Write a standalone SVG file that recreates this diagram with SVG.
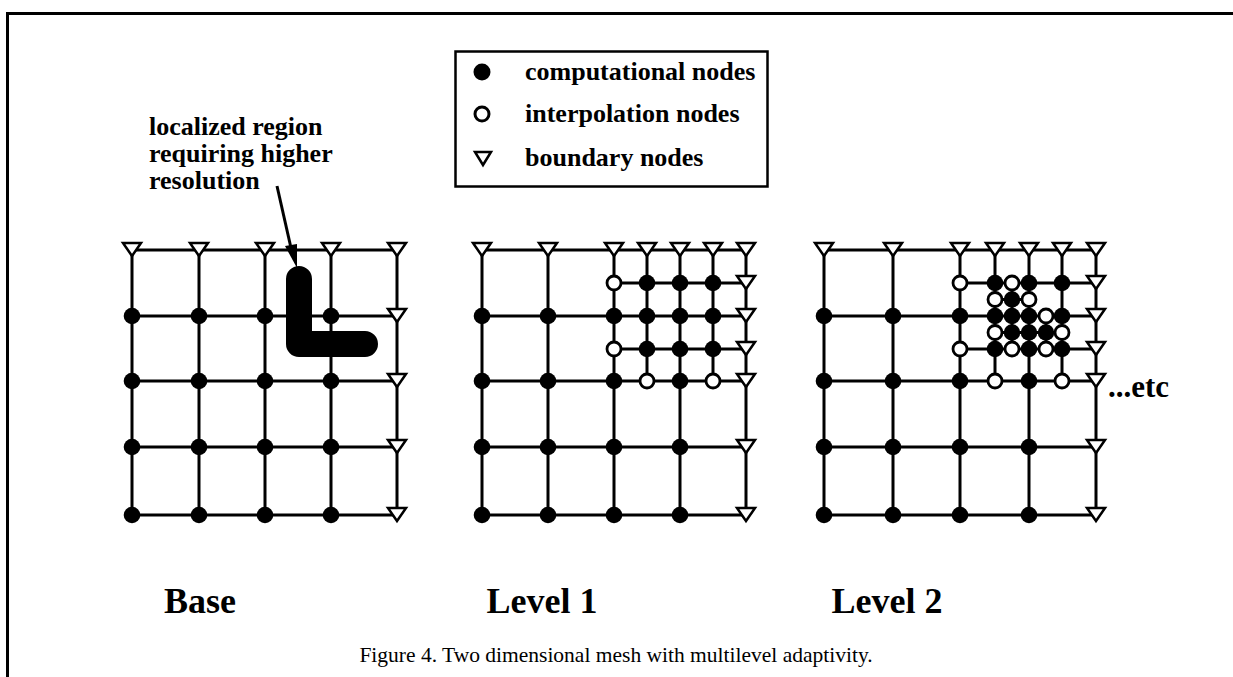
<svg xmlns="http://www.w3.org/2000/svg" xmlns:xlink="http://www.w3.org/1999/xlink" width="1233" height="677" viewBox="0 0 1233 677">
<style>
.ln{stroke:#000;stroke-width:3;fill:none}
.bt{font-family:"Liberation Serif","Times New Roman",serif;font-weight:bold;fill:#000}
.cap{font-family:"Liberation Serif","Times New Roman",serif;fill:#000}
</style>
<defs>
<circle id="F" r="8.3" fill="#000"/>
<circle id="H" r="7" fill="#fff" stroke="#000" stroke-width="2.8"/>
<polygon id="T" points="-9,-7 9,-7 0,6" fill="#fff" stroke="#000" stroke-width="2.5" stroke-linejoin="miter"/>
</defs>
<rect width="1233" height="677" fill="#fff"/>
<path class="ln" d="M7.5,677 V13.5 H1233"/>

<g id="legend">
<rect x="455.5" y="51.5" width="312" height="135" fill="none" stroke="#000" stroke-width="2.5"/>
<circle cx="482" cy="72" r="8.5" fill="#000"/>
<circle cx="482" cy="114" r="7" fill="#fff" stroke="#000" stroke-width="3"/>
<polygon points="475,152 491,152 483,165" fill="#fff" stroke="#000" stroke-width="2.5"/>
<text class="bt" x="525" y="80" font-size="26">computational nodes</text>
<text class="bt" x="525" y="122" font-size="26">interpolation nodes</text>
<text class="bt" x="525" y="166" font-size="26">boundary nodes</text>
</g>

<g id="annotation">
<text class="bt" font-size="26" x="149"><tspan x="149" y="135">localized region</tspan><tspan x="149" y="162">requiring higher</tspan><tspan x="149" y="189">resolution</tspan></text>
</g>

<g id="connectors">
<line x1="277" y1="186" x2="291" y2="248" stroke="#000" stroke-width="3"/>
<polygon points="285,246 297,244 297,268" fill="#000"/>
</g>

<g id="base">
<path class="ln" d="M132,250V515M199,250V515M265,250V515M331,250V515M397,250V515M132,250H397M132,316H397M132,381H397M132,447H397M132,515H397"/>
<path d="M299,279 V344 H365" fill="none" stroke="#000" stroke-width="26" stroke-linecap="round" stroke-linejoin="round"/>
<g id="base-nodes">
<use href="#T" x="132" y="250"/><use href="#T" x="199" y="250"/><use href="#T" x="265" y="250"/><use href="#T" x="331" y="250"/><use href="#T" x="397" y="250"/>
<use href="#T" x="397" y="316"/><use href="#T" x="397" y="381"/><use href="#T" x="397" y="447"/><use href="#T" x="397" y="515"/>
<use href="#F" x="132" y="316"/><use href="#F" x="199" y="316"/><use href="#F" x="265" y="316"/><use href="#F" x="331" y="316"/>
<use href="#F" x="132" y="381"/><use href="#F" x="199" y="381"/><use href="#F" x="265" y="381"/><use href="#F" x="331" y="381"/>
<use href="#F" x="132" y="447"/><use href="#F" x="199" y="447"/><use href="#F" x="265" y="447"/><use href="#F" x="331" y="447"/>
<use href="#F" x="132" y="515"/><use href="#F" x="199" y="515"/><use href="#F" x="265" y="515"/><use href="#F" x="331" y="515"/>
</g>
</g>

<g id="level1">
<path class="ln" d="M482,250V515M548,250V515M614,250V515M680,250V515M746,250V515M482,250H746M482,316H746M482,381H746M482,447H746M482,515H746M647,250V381M713,250V381M614,283H746M614,349H746"/>
<g id="level1-nodes">
<use href="#T" x="482" y="250"/><use href="#T" x="548" y="250"/><use href="#T" x="614" y="250"/><use href="#T" x="647" y="250"/><use href="#T" x="680" y="250"/><use href="#T" x="713" y="250"/><use href="#T" x="746" y="250"/>
<use href="#T" x="746" y="283"/><use href="#T" x="746" y="316"/><use href="#T" x="746" y="349"/><use href="#T" x="746" y="381"/><use href="#T" x="746" y="447"/><use href="#T" x="746" y="515"/>
<use href="#H" x="614" y="283"/><use href="#F" x="647" y="283"/><use href="#F" x="680" y="283"/><use href="#F" x="713" y="283"/>
<use href="#F" x="482" y="316"/><use href="#F" x="548" y="316"/><use href="#F" x="614" y="316"/><use href="#F" x="647" y="316"/><use href="#F" x="680" y="316"/><use href="#F" x="713" y="316"/>
<use href="#H" x="614" y="349"/><use href="#F" x="647" y="349"/><use href="#F" x="680" y="349"/><use href="#F" x="713" y="349"/>
<use href="#F" x="482" y="381"/><use href="#F" x="548" y="381"/><use href="#F" x="614" y="381"/><use href="#H" x="647" y="381"/><use href="#F" x="680" y="381"/><use href="#H" x="713" y="381"/>
<use href="#F" x="482" y="447"/><use href="#F" x="548" y="447"/><use href="#F" x="614" y="447"/><use href="#F" x="680" y="447"/>
<use href="#F" x="482" y="515"/><use href="#F" x="548" y="515"/><use href="#F" x="614" y="515"/><use href="#F" x="680" y="515"/>
</g>
</g>

<g id="level2">
<path class="ln" d="M824,250V515M893,250V515M960,250V515M1029,250V515M1096,250V515M824,250H1096M824,316H1096M824,381H1096M824,447H1096M824,515H1096M995,250V381M1062,250V381M960,283H1096M960,349H1096M1012,283V349M1046,316V349M995,299.5H1029M995,332.5H1062"/>
<g id="level2-nodes">
<use href="#T" x="824" y="250"/><use href="#T" x="893" y="250"/><use href="#T" x="960" y="250"/><use href="#T" x="995" y="250"/><use href="#T" x="1029" y="250"/><use href="#T" x="1062" y="250"/><use href="#T" x="1096" y="250"/>
<use href="#T" x="1096" y="283"/><use href="#T" x="1096" y="316"/><use href="#T" x="1096" y="349"/><use href="#T" x="1096" y="381"/><use href="#T" x="1096" y="447"/><use href="#T" x="1096" y="515"/>
<use href="#H" x="960" y="283"/><use href="#F" x="995" y="283"/><use href="#H" x="1012" y="283"/><use href="#F" x="1029" y="283"/><use href="#F" x="1062" y="283"/>
<use href="#H" x="995" y="299.5"/><use href="#F" x="1012" y="299.5"/><use href="#H" x="1029" y="299.5"/>
<use href="#F" x="824" y="316"/><use href="#F" x="893" y="316"/><use href="#F" x="960" y="316"/><use href="#F" x="995" y="316"/><use href="#F" x="1012" y="316"/><use href="#F" x="1029" y="316"/><use href="#H" x="1046" y="316"/><use href="#F" x="1062" y="316"/>
<use href="#H" x="995" y="332.5"/><use href="#F" x="1012" y="332.5"/><use href="#F" x="1029" y="332.5"/><use href="#F" x="1046" y="332.5"/><use href="#H" x="1062" y="332.5"/>
<use href="#H" x="960" y="349"/><use href="#F" x="995" y="349"/><use href="#H" x="1012" y="349"/><use href="#F" x="1029" y="349"/><use href="#H" x="1046" y="349"/><use href="#F" x="1062" y="349"/>
<use href="#F" x="824" y="381"/><use href="#F" x="893" y="381"/><use href="#F" x="960" y="381"/><use href="#H" x="995" y="381"/><use href="#F" x="1029" y="381"/><use href="#H" x="1062" y="381"/>
<use href="#F" x="824" y="447"/><use href="#F" x="893" y="447"/><use href="#F" x="960" y="447"/><use href="#F" x="1029" y="447"/>
<use href="#F" x="824" y="515"/><use href="#F" x="893" y="515"/><use href="#F" x="960" y="515"/><use href="#F" x="1029" y="515"/>
</g>
</g>

<g id="labels">
<text class="bt" x="200" y="613" font-size="36" text-anchor="middle">Base</text>
<text class="bt" x="542" y="613" font-size="36" text-anchor="middle">Level 1</text>
<text class="bt" x="887" y="613" font-size="36" text-anchor="middle">Level 2</text>
<text class="bt" x="1108" y="397" font-size="31">...etc</text>
<text class="cap" x="616" y="662" font-size="21.5" text-anchor="middle">Figure 4. Two dimensional mesh with multilevel adaptivity.</text>
</g>
</svg>
